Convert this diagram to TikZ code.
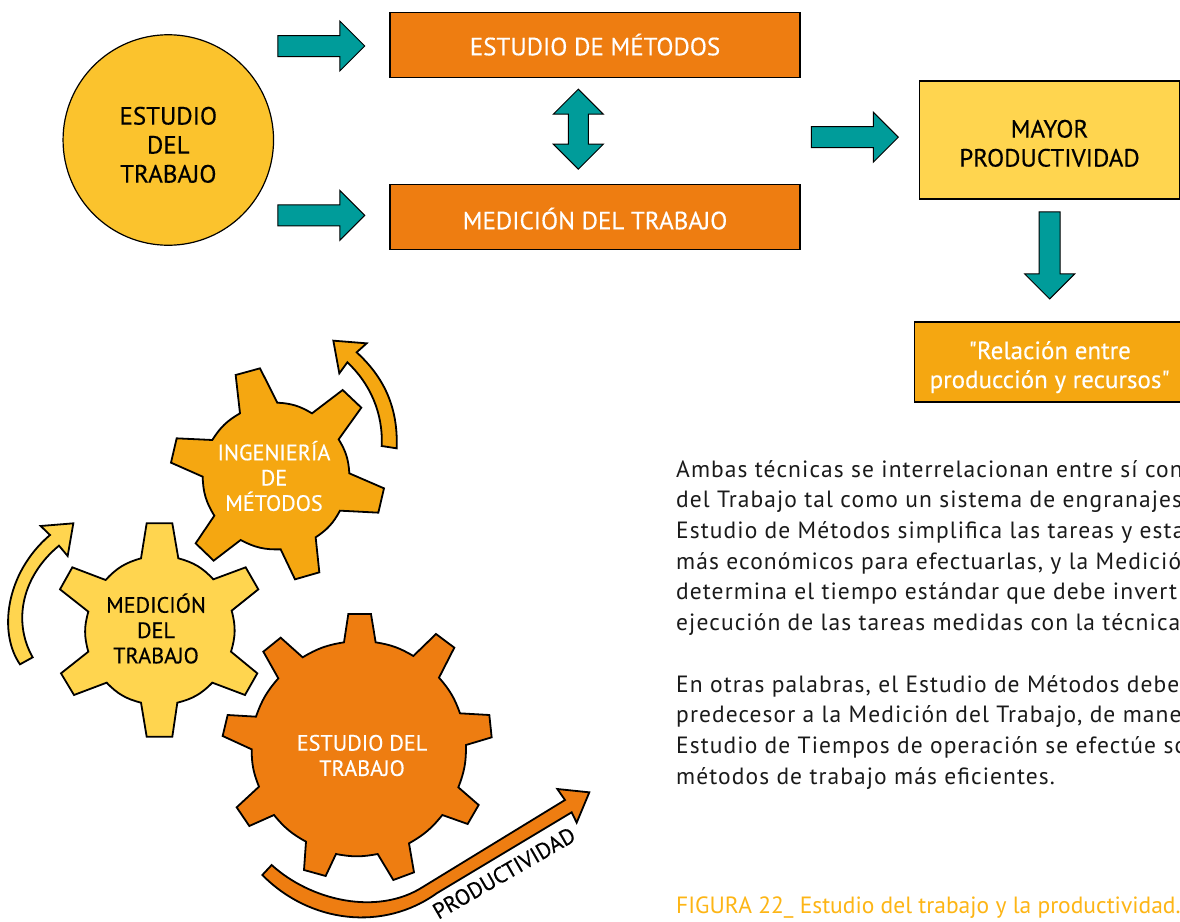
\documentclass[tikz,border=0pt]{standalone}
\usepackage{fontspec}
\usetikzlibrary{shapes.arrows,shapes.geometric}
\setmainfont{PT Sans}
\newfontfamily\labf{PT Sans}[FakeBold=0.35]
\newfontfamily\bodyf{PT Sans}[LetterSpace=4.6]
\newcommand{\lines}[2]{\raisebox{#1}[0pt][0pt]{\begin{tabular}{@{}c@{}}#2\end{tabular}}}
\definecolor{teal1}{HTML}{009C9A}
\definecolor{orange1}{HTML}{EE7D11}
\definecolor{circ1}{HTML}{FBC32D}
\definecolor{yellow1}{HTML}{FFD54F}
\definecolor{amber1}{HTML}{F5A711}
\definecolor{figc}{HTML}{FDB515}
\definecolor{ink}{HTML}{1A1A1A}
\tikzset{
  gearshape/.style={draw=black,line width=1.8pt,line join=miter},
  boxnode/.style={draw=black,line width=1.3pt,minimum height=65pt,inner sep=0pt,outer sep=0pt},
  blockr/.style={shape=single arrow,draw=black,line width=1pt,fill=teal1,inner sep=10pt,outer sep=0pt,
     single arrow head extend=14.5pt,single arrow tip angle=90,single arrow head indent=0pt,minimum width=49pt,minimum height=87pt},
  blockd/.style={blockr,shape border rotate=270},
  blockv/.style={shape=double arrow,draw=black,line width=1pt,fill=teal1,inner sep=9.5pt,outer sep=0pt,
     double arrow head extend=15pt,double arrow tip angle=90,double arrow head indent=0pt,
     minimum width=49pt,minimum height=80pt,shape border rotate=90},
  lab/.style={align=center,inner sep=0pt,font=\labf\fontsize{25}{29}\selectfont},
  glab/.style={align=center,inner sep=0pt,font=\labf\fontsize{22.2}{25.3}\selectfont},
}
\begin{document}
\begin{tikzpicture}[x=1pt,y=-1pt]
\useasboundingbox (0,0) rectangle (1180,921);
\clip (0,0) rectangle (1180,921);
\fill[white] (0,0) rectangle (1180,921);

% top row
\node[circle,draw=black,line width=1.2pt,fill=circ1,minimum size=210.5pt,inner sep=0pt,lab] (estudio) at (168.3,140) {\lines{-14pt}{ESTUDIO\\DEL\\TRABAJO}};
\node[boxnode,fill=orange1,text=white,minimum width=410pt,lab] (metodos) at (595,45) {\lines{-10pt}{ESTUDIO DE MÉTODOS}};
\node[boxnode,fill=orange1,text=white,minimum width=410pt,lab] (medicion) at (595,217) {\lines{-12pt}{MEDICIÓN DEL TRABAJO}};
\node[boxnode,fill=yellow1,minimum width=260pt,minimum height=118pt,lab] (mayor) at (1049.5,140) {\lines{-12.5pt}{MAYOR\\PRODUCTIVIDAD}};
\node[boxnode,fill=amber1,text=white,minimum width=270pt,minimum height=80pt,lab] (relacion) at (1049.7,362) {\lines{-12pt}{"Relación entre\\producción y recursos"}};

\node[blockr] (a1) at (316,46) {};
\node[blockr] (a2) at (316,215.3) {};
\node[blockr] (a3) at (849.5,137.2) {};
\node[blockd] (a4) at (1049.7,250.2) {};
\node[blockv] (a5) at (578.3,129.2) {};

% gear Ingenieria
\begin{scope}[x=0.33333pt,y=-0.33333pt,shift={(0,960)}]
\draw[gearshape,fill=amber1] (707,165) -- (780,145) -- (832,248) to[bend left=14] (936,280) -- (1028,210) -- (1084,263) -- (1016,358)
 to[bend left=14] (1048,460) -- (1152,505) -- (1135,578) -- (1020,572) to[bend left=14] (947,652) -- (958,757) -- (885,778) -- (842,688)
 to[bend left=15] (722,660) -- (641,722) -- (587,670) -- (643,587) to[bend left=15] (608,470) -- (513,428) -- (530,355) -- (637,360)
 to[bend left=14] (720,280) -- cycle;
\draw[gearshape,fill=amber1] (1145,378) -- (1190,385) .. controls (1195,260) and (1150,170) .. (1070,97) -- (1100,70) -- (1000,62) -- (1018,160) -- (1042,127)
 .. controls (1110,190) and (1150,280) .. cycle;
\end{scope}

% gear Medicion
\begin{scope}[x=0.33333pt,y=-0.33333pt,shift={(0,1530)}]
\draw[gearshape,fill=yellow1] (440,40) -- (517,40) -- (535,145) to[bend left=16] (640,208) -- (737,172) -- (775,238) -- (695,302)
 to[bend left=16] (693,425) -- (772,490) -- (735,555) -- (637,518) to[bend left=16] (532,578) -- (517,680) -- (440,680) -- (423,578)
 to[bend left=16] (320,518) -- (222,555) -- (183,490) -- (265,425) to[bend left=16] (265,305) -- (180,238) -- (217,172) -- (317,210)
 to[bend left=16] (423,145) -- cycle;
\draw[gearshape,fill=yellow1] (60,463) .. controls (-5,370) and (15,190) .. (150,75) -- (122,48) -- (220,40) -- (203,138) -- (177,107)
 .. controls (70,195) and (35,330) .. (98,442) -- cycle;
\end{scope}

% gear Estudio
\begin{scope}[x=0.33333pt,y=-0.33333pt,shift={(630,1800)}]
\draw[gearshape,fill=orange1] (415,42) -- (483,42) -- (497,127) to[bend left=11] (610,168) -- (678,102) -- (733,143) -- (687,233)
 to[bend left=11] (750,340) -- (838,345) -- (845,412) -- (768,435) to[bend left=11] (745,562) -- (806,615) -- (773,672) -- (697,645)
 to[bend left=11] (597,730) -- (612,817) -- (550,840) -- (503,762) to[bend left=11] (378,762) -- (347,828) -- (282,810) -- (288,725)
 to[bend left=11] (192,645) -- (118,678) -- (80,622) -- (147,560) to[bend left=11] (125,448) -- (38,408) -- (53,345) -- (138,350)
 to[bend left=11] (205,235) -- (160,155) -- (212,113) -- (278,172) to[bend left=11] (402,127) -- cycle;
\draw[gearshape,fill=orange1] (185,795) .. controls (300,900) and (500,950) .. (640,860) -- (1065,600) -- (1042,567) -- (1138,577) -- (1100,668) -- (1085,637)
 -- (680,880) .. controls (520,995) and (300,970) .. (157,825) -- cycle;
\end{scope}

\node[glab,text=white] (g1) at (274,476) {INGENIERÍA\\DE\\MÉTODOS};
\node[glab] (g2) at (156,628.5) {MEDICIÓN\\DEL\\TRABAJO};
\node[glab,text=white] (g3) at (362,755.5) {ESTUDIO DEL\\TRABAJO};
\node[inner sep=0pt,rotate=30,font=\labf\fontsize{22.2}{25}\selectfont] (prod) at (504,873) {PRODUCTIVIDAD};

% text
\node[anchor=north west,inner sep=0pt,align=left,text=ink,font=\bodyf\fontsize{23.5}{30.7}\selectfont] (body) at (676,460) {Ambas técnicas se interrelacionan entre sí con\\
del Trabajo tal como un sistema de engranajes\\
Estudio de Métodos simplifica las tareas y esta\\
más económicos para efectuarlas, y la Medición\\
determina el tiempo estándar que debe invertir\\
ejecución de las tareas medidas con la técnica\\
\mbox{}\\
En otras palabras, el Estudio de Métodos debe\\
predecesor a la Medición del Trabajo, de mane\\
Estudio de Tiempos de operación se efectúe so\\
métodos de trabajo más eficientes.};
\node[anchor=west,inner sep=0pt,text=figc,font=\fontsize{23.5}{26}\selectfont] (fig) at (676,908) {FIGURA 22\_ Estudio del trabajo y la productividad.};
\end{tikzpicture}
\end{document}
